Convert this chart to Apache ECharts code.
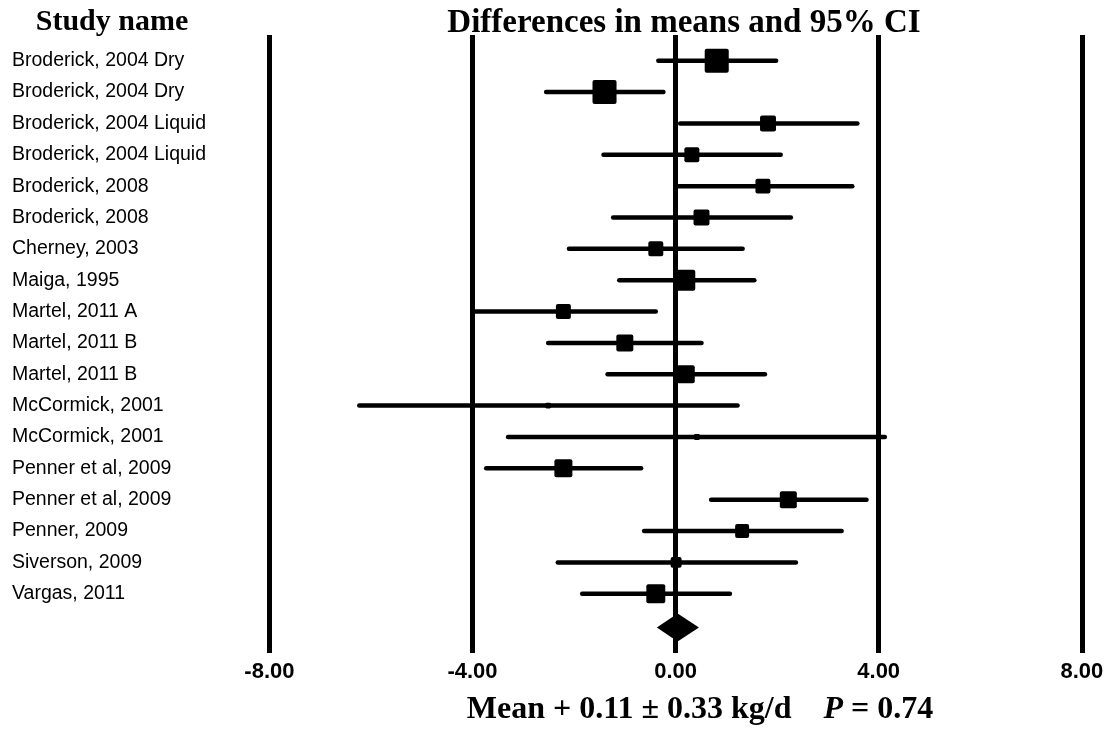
<!DOCTYPE html>
<html>
<head>
<meta charset="utf-8">
<script src="https://cdn.jsdelivr.net/npm/echarts@6/dist/echarts.min.js"></script>
<style>html,body{margin:0;padding:0;background:#fff}#c{width:1115px;height:734px}</style>
</head>
<body>
<div id="c"></div>
<script>
const studies = [
  'Broderick, 2004 Dry', 'Broderick, 2004 Dry', 'Broderick, 2004 Liquid', 'Broderick, 2004 Liquid',
  'Broderick, 2008', 'Broderick, 2008', 'Cherney, 2003', 'Maiga, 1995', 'Martel, 2011 A',
  'Martel, 2011 B', 'Martel, 2011 B', 'McCormick, 2001', 'McCormick, 2001', 'Penner et al, 2009',
  'Penner et al, 2009', 'Penner, 2009', 'Siverson, 2009', 'Vargas, 2011'
];
const estimates = [0.81, -1.40, 1.82, 0.32, 1.72, 0.51, -0.39, 0.18, -2.21, -1.00, 0.20, -2.51, 0.42, -2.21, 2.22, 1.31, 0.01, -0.39];
const lowerCI   = [-0.34, -2.55, 0.09, -1.42, 0.00, -1.23, -2.10, -1.11, -3.97, -2.51, -1.34, -6.23, -3.30, -3.73, 0.70, -0.62, -2.32, -1.84];
const upperCI   = [1.98, -0.24, 3.58, 2.07, 3.48, 2.27, 1.32, 1.55, -0.39, 0.51, 1.76, 1.22, 4.12, -0.68, 3.76, 3.27, 2.37, 1.07];
const weights   = [11.6, 11.6, 5.1, 4.5, 4.5, 5.1, 4.5, 8.9, 4.5, 5.8, 6.5, 0.7, 0.7, 6.5, 5.8, 3.9, 2.4, 7.2];
const summaryEstimate = 0.04;
const summaryLower = -0.37;
const summaryUpper = 0.46;
const xTicks = [-8, -4, 0, 4, 8];
const footerText = 'Mean + 0.11 \u00b1 0.33 kg/d';
const footerP = '0.74';

const studyData = studies.map((s, i) => [i, lowerCI[i], estimates[i], upperCI[i], weights[i]]);
const summaryRow = studies.length + 0.08;

const chart = echarts.init(document.getElementById('c'), null, {renderer: 'canvas'});
chart.setOption({
  animation: false,
  backgroundColor: '#fff',
  title: [
    {text: 'Study name', left: 107, top: 2, textAlign: 'center',
     textStyle: {fontFamily: 'Liberation Serif', fontWeight: 'bold', fontSize: 30, color: '#000'}},
    {text: 'Differences in means and 95% CI', left: 679, top: 2, textAlign: 'center',
     textStyle: {fontFamily: 'Liberation Serif', fontWeight: 'bold', fontSize: 33, color: '#000'}},
    {text: '{a|' + footerText + '    }{b|P}{a| = ' + footerP + '}', left: 695, top: 689, textAlign: 'center',
     textStyle: {rich: {
       a: {fontFamily: 'Liberation Serif', fontWeight: 'bold', fontSize: 32, color: '#000'},
       b: {fontFamily: 'Liberation Serif', fontWeight: 'bold', fontStyle: 'italic', fontSize: 32, color: '#000'}
     }}}
  ],
  grid: {left: 269.4, right: 33.2, top: 35, bottom: 81},
  xAxis: {
    type: 'value', min: xTicks[0], max: xTicks[xTicks.length - 1], interval: 4,
    axisLine: {show: false}, axisTick: {show: false},
    splitLine: {show: true, lineStyle: {color: '#000', width: 5}},
    axisLabel: {formatter: v => v.toFixed(2), color: '#000', fontFamily: 'Liberation Sans', fontWeight: 'bold', fontSize: 22, margin: 8}
  },
  yAxis: {
    type: 'value', inverse: true, min: -0.82, max: 18.89, show: false
  },
  series: [
    {
      type: 'custom',
      data: studyData,
      encode: {x: [1, 2, 3], y: 0},
      renderItem: function (params, api) {
        const i = api.value(0);
        const pLo = api.coord([api.value(1), i]);
        const pEst = api.coord([api.value(2), i]);
        const pHi = api.coord([api.value(3), i]);
        const size = 7.06 * Math.sqrt(api.value(4));
        return {
          type: 'group',
          children: [
            {type: 'line', shape: {x1: pLo[0], y1: pLo[1], x2: pHi[0], y2: pHi[1]},
             style: {stroke: '#000', lineWidth: 4.5, lineCap: 'round'}},
            {type: 'rect', shape: {x: pEst[0] - size / 2, y: pEst[1] - size / 2, width: size, height: size, r: Math.min(2, size / 4)},
             style: {fill: '#000'}},
            {type: 'text', x: 12, y: pEst[1],
             style: {text: studies[i], fill: '#000', font: '19.5px "Liberation Sans"', verticalAlign: 'middle', textVerticalAlign: 'middle', align: 'left'}}
          ]
        };
      },
      z: 5
    },
    {
      type: 'custom',
      data: [[summaryRow, summaryLower, summaryEstimate, summaryUpper]],
      encode: {x: [1, 2, 3], y: 0},
      renderItem: function (params, api) {
        const r = api.value(0);
        const l = api.coord([api.value(1), r]);
        const c = api.coord([api.value(2), r]);
        const h = api.coord([api.value(3), r]);
        const hh = 14;
        return {
          type: 'polygon',
          shape: {points: [[l[0], l[1]], [c[0], c[1] - hh], [h[0], h[1]], [c[0], c[1] + hh]]},
          style: {fill: '#000'}
        };
      },
      z: 5
    }
  ]
});
</script>
</body>
</html>
